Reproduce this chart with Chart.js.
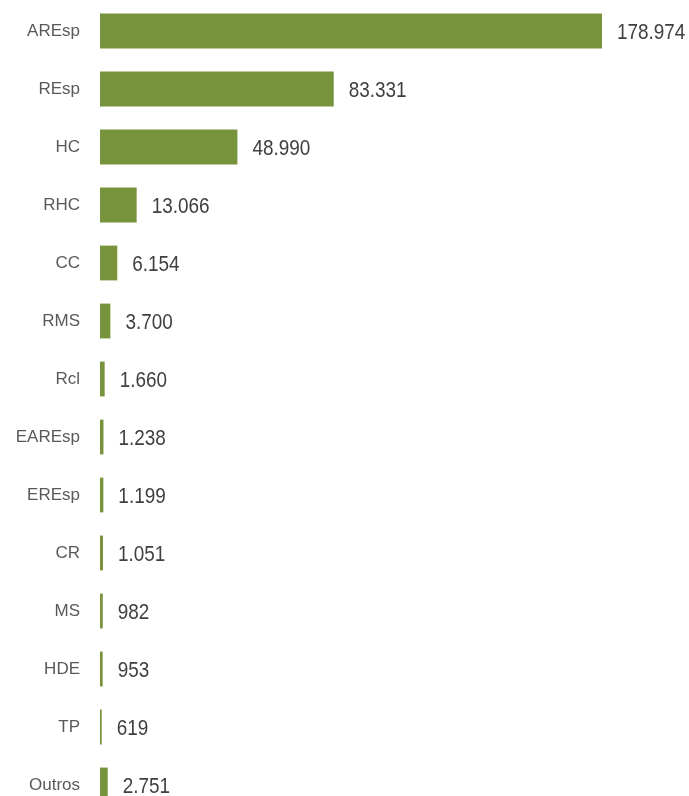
<!DOCTYPE html>
<html>
<head>
<meta charset="utf-8">
<script src="https://cdn.jsdelivr.net/npm/chart.js@4/dist/chart.umd.min.js"></script>
<style>
  html, body { margin: 0; padding: 0; background: #fff; overflow: hidden; }
  #wrap { position: relative; width: 689px; height: 816px; }
</style>
</head>
<body>
<div id="wrap"><canvas id="chart"></canvas></div>
<script>
// --- data ---
const categories = ['AREsp', 'REsp', 'HC', 'RHC', 'CC', 'RMS', 'Rcl', 'EAREsp', 'EREsp', 'CR', 'MS', 'HDE', 'TP', 'Outros'];
const totals = [178974, 83331, 48990, 13066, 6154, 3700, 1660, 1238, 1199, 1051, 982, 953, 619, 2751];

const FONT = '"Liberation Sans", Arial, sans-serif';

// thousands separator with a dot (pt-BR style)
const formatNumber = (n) => String(n).replace(/\B(?=(\d{3})+(?!\d))/g, '.');

// draws the value to the right of each bar, slightly condensed like the original
const valueLabels = {
    id: 'valueLabels',
    afterDatasetsDraw(chart) {
        const ctx = chart.ctx;
        const meta = chart.getDatasetMeta(0);
        const squeeze = 0.86;
        ctx.save();
        ctx.font = '22px ' + FONT;
        ctx.fillStyle = '#404040';
        ctx.textAlign = 'left';
        ctx.textBaseline = 'middle';
        meta.data.forEach((bar, i) => {
            ctx.save();
            ctx.translate(bar.x + 15, bar.y + 2);
            ctx.scale(squeeze, 1);
            ctx.fillText(formatNumber(totals[i]), 0, 0);
            ctx.restore();
        });
        ctx.restore();
    }
};

new Chart(document.getElementById('chart'), {
    type: 'bar',
    data: {
        labels: categories,
        datasets: [{
            data: totals,
            backgroundColor: '#77933C',
            borderWidth: 0,
            categoryPercentage: 0.6,
            barPercentage: 1.0
        }]
    },
    options: {
        indexAxis: 'y',
        responsive: true,
        maintainAspectRatio: false,
        animation: false,
        layout: { padding: { top: 2, right: 0, bottom: 2, left: 0 } },
        scales: {
            x: {
                min: 0,
                max: 210000,
                display: false,
                grid: { display: false }
            },
            y: {
                grid: { display: false, drawTicks: false },
                border: { display: false },
                ticks: {
                    color: '#595959',
                    padding: 20,
                    font: { family: FONT, size: 17 }
                },
                afterFit(scale) {
                    scale.width = 100;
                    // don't let tick padding shrink the plot vertically
                    scale.paddingTop = 0;
                    scale.paddingBottom = 0;
                }
            }
        },
        plugins: {
            legend: { display: false },
            tooltip: { enabled: false }
        }
    },
    plugins: [valueLabels]
});
</script>
</body>
</html>
